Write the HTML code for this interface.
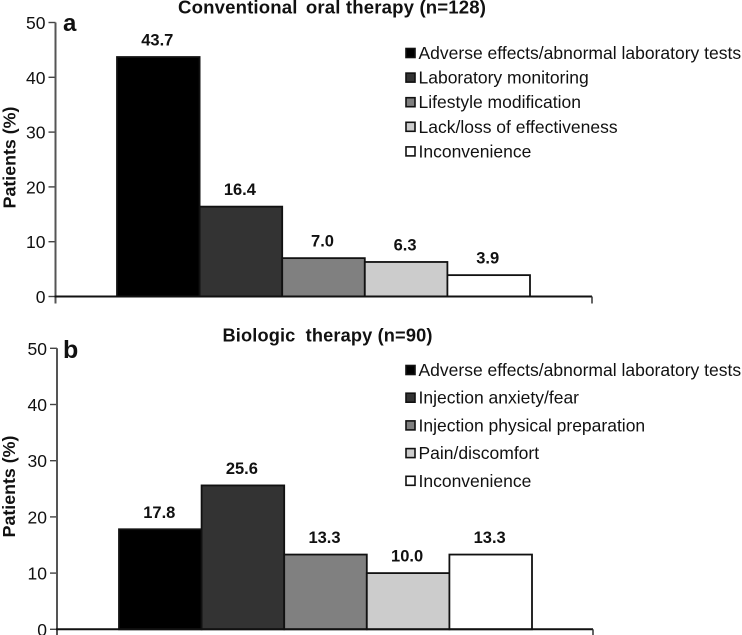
<!DOCTYPE html>
<html lang="en">
<head>
<meta charset="utf-8">
<title>Reasons for therapy discontinuation</title>
<style>
html,body{margin:0;padding:0;background:#fff;width:742px;height:635px;overflow:hidden}
svg{display:block;font-family:"Liberation Sans",Arial,sans-serif;color:#111}
text{fill:#111}
</style>
</head>
<body>
<svg id="chart" xmlns="http://www.w3.org/2000/svg" width="742" height="635" viewBox="0 0 742 635">
  <text x="178" y="13.5" font-weight="bold" font-size="18.6" letter-spacing="0.15">Conventional <tspan dx="3">oral therapy (n=128)</tspan></text>
  <text x="63" y="31" font-weight="bold" font-size="24">a</text>
  <text transform="translate(15.5,157.5) rotate(-90)" text-anchor="middle" font-weight="bold" font-size="17.8">Patients (%)</text>
  <text x="222.5" y="341.7" font-weight="bold" font-size="18.2" letter-spacing="0.15">Biologic <tspan dx="5">therapy (n=90)</tspan></text>
  <text x="63" y="358" font-weight="bold" font-size="25">b</text>
  <text transform="translate(15,486.5) rotate(-90)" text-anchor="middle" font-weight="bold" font-size="17.8">Patients (%)</text>
</svg>
<script>
const tickLabels = [0, 10, 20, 30, 40, 50];
const barFills = ['#000000', '#333333', '#808080', '#cccccc', '#ffffff'];
const categoriesA = ['Adverse effects/abnormal laboratory tests', 'Laboratory monitoring', 'Lifestyle modification', 'Lack/loss of effectiveness', 'Inconvenience'];
const valuesA = [43.7, 16.4, 7.0, 6.3, 3.9];
const categoriesB = ['Adverse effects/abnormal laboratory tests', 'Injection anxiety/fear', 'Injection physical preparation', 'Pain/discomfort', 'Inconvenience'];
const valuesB = [17.8, 25.6, 13.3, 10.0, 13.3];

const NS = 'http://www.w3.org/2000/svg';
const root = document.getElementById('chart');

function make(tag, attrs) {
  const el = document.createElementNS(NS, tag);
  for (const k in attrs) el.setAttribute(k, attrs[k]);
  root.appendChild(el);
  return el;
}

function drawPanel(id, categories, values, g) {
  const yScale = v => g.y0 + (g.y50 - g.y0) * v / 50;
  const xScale = i => g.barStart + i * g.barWidth;

  tickLabels.forEach(t => {
    const tick = make('line', {x1: g.axisX - 7, x2: g.axisX, y1: yScale(t), y2: yScale(t), stroke: '#444', 'stroke-width': 1.4});
    
    
    const lab = make('text', {x: g.axisX - 10, y: yScale(t) + 6.5, 'text-anchor': 'end', 'font-size': 17.5});
    lab.textContent = t;
    
    
  });

  values.forEach((v, i) => {
    const bar = make('rect', {x: xScale(i), y: yScale(v), width: g.barWidth, height: g.y0 - yScale(v), fill: barFills[i], stroke: '#111', 'stroke-width': 1.8});
    
    
    const lab = make('text', {x: xScale(i) + g.barWidth / 2 - 1, y: yScale(v) - 11.5, 'text-anchor': 'middle', 'font-weight': 'bold', 'font-size': 16.5});
    lab.textContent = v.toFixed(1);
    
    
  });

  const yAxis = make('line', {x1: g.axisX, x2: g.axisX, y1: yScale(50), y2: g.y0 + 7, stroke: '#555', 'stroke-width': 2});
  
  
  const xAxis = make('line', {x1: g.axisX - 1, x2: g.axisEnd, y1: g.y0, y2: g.y0, stroke: '#111', 'stroke-width': 2});
  
  
  const endTick = make('line', {x1: g.axisEnd, x2: g.axisEnd, y1: g.y0, y2: g.y0 + 7, stroke: '#333', 'stroke-width': 1.5});
  
  

  categories.forEach((c, i) => {
    const cy = g.legendTop + i * g.legendStep;
    const sw = make('rect', {x: 406, y: cy - 4.5, width: 9, height: 9, fill: barFills[i], stroke: '#111', 'stroke-width': 1.6});
    
    
    const lab = make('text', {x: 418.5, y: cy + 6, 'font-size': 17.5});
    lab.textContent = c;
    
    
  });
}

drawPanel('a', categoriesA, valuesA, {axisX: 55.5, axisEnd: 592, y0: 296.5, y50: 22.5, barStart: 117, barWidth: 82.6, legendTop: 53, legendStep: 24.6});
drawPanel('b', categoriesB, valuesB, {axisX: 57, axisEnd: 593, y0: 629.3, y50: 348.3, barStart: 119, barWidth: 82.6, legendTop: 370, legendStep: 27.7});
</script>
</body>
</html>
